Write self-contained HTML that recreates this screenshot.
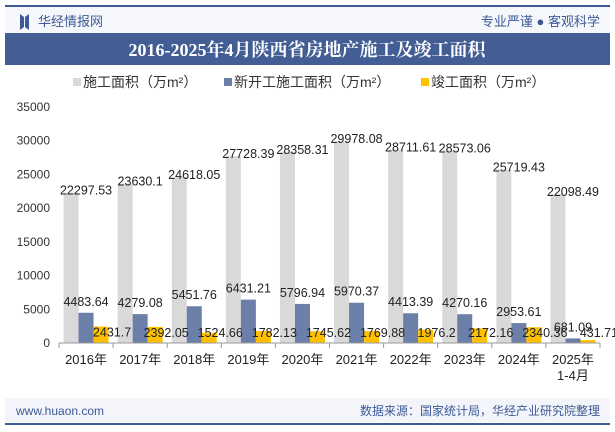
<!DOCTYPE html>
<html><head><meta charset="utf-8"><style>
body{margin:0;width:615px;height:427px;overflow:hidden;background:#fff;font-family:"Liberation Sans","Noto Sans CJK SC",sans-serif}
</style></head><body>
<svg width="615" height="427" xmlns="http://www.w3.org/2000/svg" font-family="Liberation Sans, Noto Sans CJK SC, sans-serif">
<rect x="5" y="5" width="605" height="2" fill="#3c5a96"/>
<rect x="5" y="7" width="605" height="26" fill="#f5f7fb"/>
<path d="M20 14 l4 3 v10 l-4 3z M29 14 l-4 3 v10 l4 3z" fill="#3c5a96"/>
<text x="38" y="26" font-size="13" fill="#3c5a96">华经情报网</text>
<text x="600" y="26" font-size="13" fill="#3c5a96" text-anchor="end">专业严谨 ● 客观科学</text>
<rect x="5" y="33" width="605" height="32" fill="#435e95"/>
<text x="307" y="56" font-size="18" font-weight="bold" fill="#fff" text-anchor="middle" font-family="Liberation Serif, Noto Serif CJK SC, serif">2016-2025年4月陕西省房地产施工及竣工面积</text>
<g font-size="14" fill="#333">
<rect x="73" y="78" width="8" height="8" fill="#d9d9d9"/><text x="83" y="87">施工面积（万m²）</text>
<rect x="224" y="78" width="8" height="8" fill="#6b7fa8"/><text x="234" y="87">新开工施工面积（万m²）</text>
<rect x="421" y="78" width="8" height="8" fill="#ffc000"/><text x="431" y="87">竣工面积（万m²）</text>
</g>
<g id="chart"></g>
<g id="labels"></g>
<rect x="5" y="398" width="605" height="24" fill="#f3f5fa"/>
<text x="16" y="415" font-size="12" fill="#3c5a96">www.huaon.com</text>
<text x="600" y="415" font-size="12" fill="#3c5a96" text-anchor="end">数据来源：国家统计局，华经产业研究院整理</text>
<rect x="5" y="423" width="605" height="2" fill="#3c5a96"/>
</svg>
<script>
const categories=["2016年","2017年","2018年","2019年","2020年","2021年","2022年","2023年","2024年","2025年"];
const construction=[22297.53,23630.1,24618.05,27728.39,28358.31,29978.08,28711.61,28573.06,25719.43,22098.49];
const newStart=[4483.64,4279.08,5451.76,6431.21,5796.94,5970.37,4413.39,4270.16,2953.61,681.09];
const completed=[2431.7,2392.05,1524.66,1782.13,1745.62,1769.88,1976.2,2172.16,2340.36,431.71];
const yTicks=[0,5000,10000,15000,20000,25000,30000,35000];
const NS="http://www.w3.org/2000/svg";
const g=document.getElementById('chart');
const gl=document.getElementById('labels');
const x0=59,x1=600,yb=343,yt=107,ymax=35000;
const step=(x1-x0)/categories.length;
const y=v=>yb-(v/ymax)*(yb-yt);
const cx=i=>x0+step*(i+0.5);
function el(t,a,p){const e=document.createElementNS(NS,t);for(const k in a)e.setAttribute(k,a[k]);(p||g).appendChild(e);return e;}
yTicks.forEach(t=>{const e=el('text',{x:50,y:y(t)+4,'font-size':12,fill:'#333','text-anchor':'end'});e.textContent=t;

});
const bw=15;
const series=[[construction,'#d9d9d9',-1],[newStart,'#6b7fa8',0],[completed,'#ffc000',1]];
categories.forEach((c,i)=>{
 series.forEach(([arr,col,o],si)=>{
  const v=arr[i];const bx=cx(i)+o*bw-bw/2;
  const r=el('rect',{x:bx,y:y(v),width:bw,height:yb-y(v),fill:col});
  
  
  let ly=si==0?y(v)+2:si==1?y(v)-7:Math.min(y(v)+10,337);
  let lx=si==2?cx(i)+26:cx(i);
  const t=el('text',{x:lx,y:ly,'font-size':12.5,fill:'#222','text-anchor':'middle'},gl);
  t.textContent=v;
  
  
 });
 const lt=el('text',{x:cx(i),y:364,'font-size':13,fill:'#222','text-anchor':'middle'});
 lt.textContent=c;
 
 
 const tk=el('line',{x1:x0+step*i,x2:x0+step*i,y1:yb,y2:yb+5,stroke:'#999'});
 
 
});
const sub=el('text',{x:cx(9),y:380,'font-size':13,fill:'#222','text-anchor':'middle'});sub.textContent="1-4月";


const ax=el('line',{x1:x0,x2:x1,y1:yb,y2:yb,stroke:'#999'});


const tl=el('line',{x1:x1,x2:x1,y1:yb,y2:yb+5,stroke:'#999'});


</script>
</body></html>
